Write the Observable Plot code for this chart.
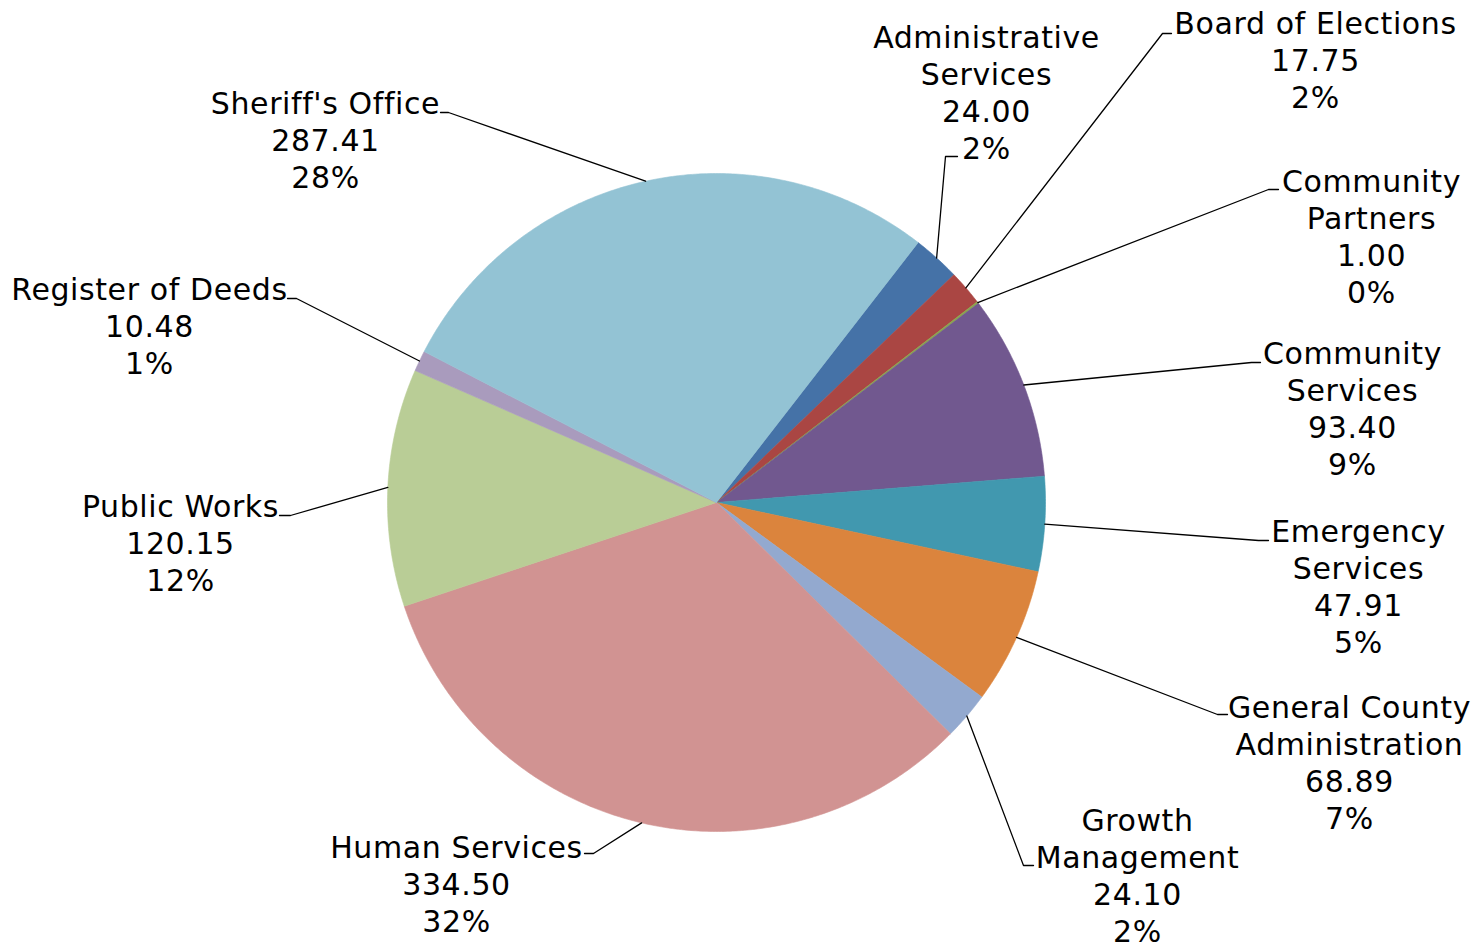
<!DOCTYPE html>
<html>
<head>
<meta charset="utf-8">
<script src="https://cdn.jsdelivr.net/npm/d3@7"></script>
<script src="https://cdn.jsdelivr.net/npm/@observablehq/plot@0.6"></script>
<style>
  html, body { margin: 0; padding: 0; background: #fff; }
  #chart { width: 1478px; height: 944px; }
  #chart text { letter-spacing: 0.6px; }
</style>
</head>
<body>
<div id="chart"></div>
<script>
// ---- data ----
const categories = [
  "Administrative Services",
  "Board of Elections",
  "Community Partners",
  "Community Services",
  "Emergency Services",
  "General County Administration",
  "Growth Management",
  "Human Services",
  "Public Works",
  "Register of Deeds",
  "Sheriff's Office"
];
const values = [24.00, 17.75, 1.00, 93.40, 47.91, 68.89, 24.10, 334.50, 120.15, 10.48, 287.41];
const colors = ["#4572A7", "#AA4643", "#89A54E", "#71588F", "#4198AF", "#DB843D", "#93A9CF", "#D19392", "#B9CD96", "#A99BBD", "#93C3D4"];
// how each category name is wrapped in its label
const labelNameLines = [
  ["Administrative", "Services"],
  ["Board of Elections"],
  ["Community", "Partners"],
  ["Community", "Services"],
  ["Emergency", "Services"],
  ["General County", "Administration"],
  ["Growth", "Management"],
  ["Human Services"],
  ["Public Works"],
  ["Register of Deeds"],
  ["Sheriff's Office"]
];

// ---- layout (pixels) ----
const W = 1478, H = 944;
const pieCenter = [716, 502];
const pieRadius = 329;
const startAngleDeg = 37.8;
const fontSize = 30, lineStep = 37;
// label text centre x, first baseline y, leader elbow x/y, stub end x
const labelLayout = [
  {tx: 986,  ty: 47,  ex: 945,  ey: 156, sx: 957},
  {tx: 1315, ty: 33,  ex: 1162, ey: 33,  sx: 1171},
  {tx: 1371, ty: 191, ex: 1268, ey: 189, sx: 1278},
  {tx: 1352, ty: 363, ex: 1251, ey: 362, sx: 1260},
  {tx: 1358, ty: 541, ex: 1258, ey: 540, sx: 1268},
  {tx: 1349, ty: 717, ex: 1217, ey: 714, sx: 1227},
  {tx: 1137, ty: 830, ex: 1023, ey: 865, sx: 1033},
  {tx: 456,  ty: 857, ex: 593,  ey: 853, sx: 584},
  {tx: 180,  ty: 516, ex: 290,  ey: 515, sx: 279},
  {tx: 149,  ty: 299, ex: 296,  ey: 298, sx: 287},
  {tx: 325,  ty: 113, ex: 448,  ey: 112, sx: 440}
];

// ---- derived geometry ----
const total = d3.sum(values);
const [cx, cy] = pieCenter;
const toXY = (deg, r) => {
  const a = deg * Math.PI / 180;
  return [cx + r * Math.sin(a), cy - r * Math.cos(a)];
};

const slicePts = [];
const leaderPts = [];
const textRows = [];
let cum = 0;
categories.forEach((name, i) => {
  const a0 = startAngleDeg + cum / total * 360;
  cum += values[i];
  const a1 = startAngleDeg + cum / total * 360;
  // wedge polygon
  slicePts.push({name, x: cx, y: cy, k: 0});
  const steps = Math.max(2, Math.ceil((a1 - a0) / 0.5));
  for (let s = 0; s <= steps; s++) {
    const [x, y] = toXY(a0 + (a1 - a0) * s / steps, pieRadius);
    slicePts.push({name, x, y, k: s + 1});
  }
  slicePts.push({name, x: cx, y: cy, k: steps + 2});
  // leader line
  const L = labelLayout[i];
  const [px, py] = toXY((a0 + a1) / 2, pieRadius);
  leaderPts.push({name, x: px, y: py});
  leaderPts.push({name, x: L.ex, y: L.ey});
  leaderPts.push({name, x: L.sx, y: L.ey});
  // label text
  const pct = Math.round(values[i] / total * 100) + "%";
  const lines = [...labelNameLines[i], values[i].toFixed(2), pct];
  lines.forEach((t, j) => textRows.push({name, text: t, x: L.tx, y: L.ty + j * lineStep}));
});

const chart = Plot.plot({
  width: W,
  height: H,
  margin: 0,
  x: {domain: [0, W], axis: null},
  y: {domain: [H, 0], axis: null},
  color: {domain: categories, range: colors},
  style: {background: "#fff"},
  marks: [
    Plot.line(slicePts, {x: "x", y: "y", z: "name", fill: "name", stroke: "name", strokeWidth: 0.6, curve: "linear"}),
    Plot.line(leaderPts, {x: "x", y: "y", z: "name", stroke: "#000", strokeWidth: 1.3, curve: "linear"}),
    Plot.text(textRows, {
      x: "x", y: "y", text: "text",
      textAnchor: "middle", lineAnchor: "bottom",
      fontFamily: "DejaVu Sans, Verdana, sans-serif",
      fontSize: fontSize, fill: "#000"
    })
  ]
});
document.getElementById("chart").appendChild(chart);
</script>
</body>
</html>
